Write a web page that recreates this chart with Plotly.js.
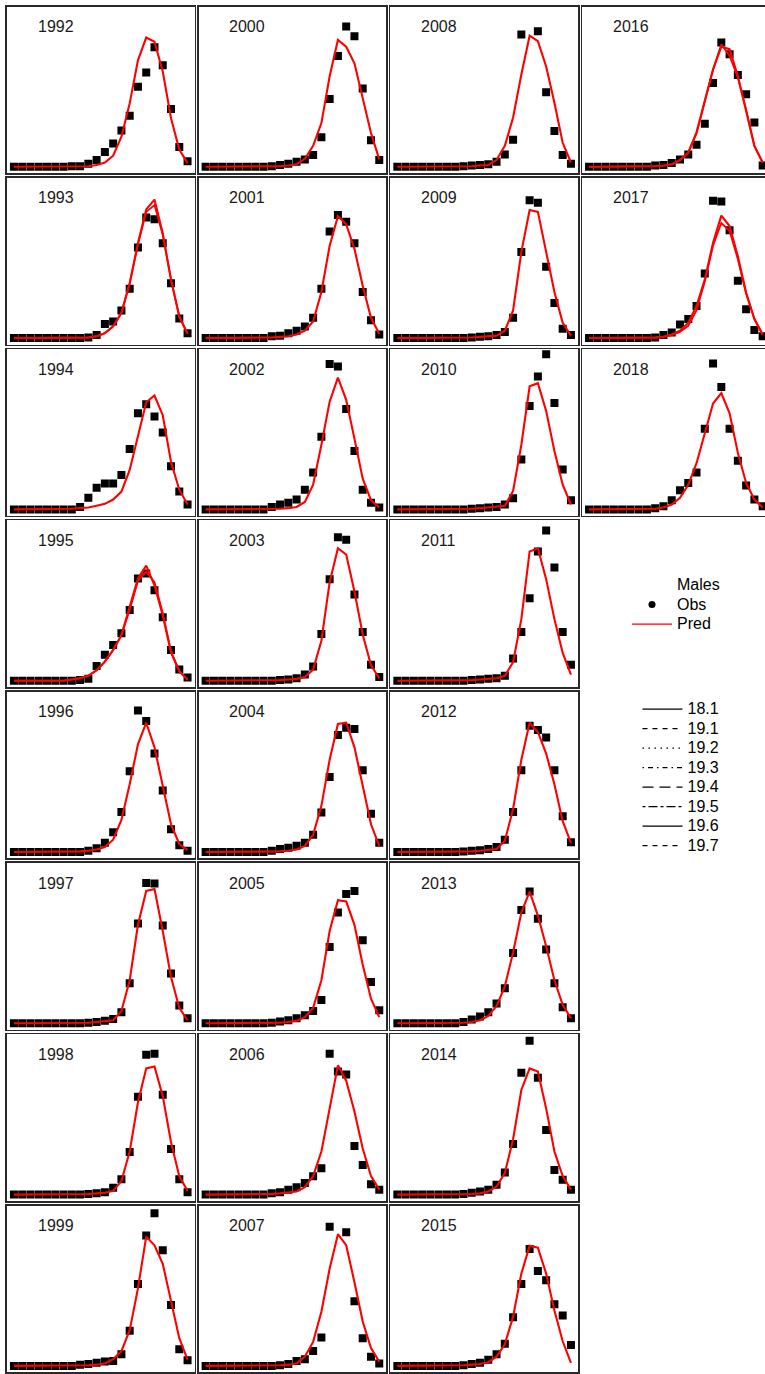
<!DOCTYPE html>
<html>
<head>
<meta charset="utf-8">
<script src="https://cdn.plot.ly/plotly-3.0.1.min.js"></script>
<style>
html,body{margin:0;padding:0;overflow:hidden;background:#fff;}
#chart{width:775px;height:1374px;}
</style>
</head>
<body>
<div id="chart"></div>
<script>
// ---------- data ----------
const lengthBins = [1,2,3,4,5,6,7,8,9,10,11,12,13,14,15,16,17,18,19,20,21,22];
const years = [1992,1993,1994,1995,1996,1997,1998,1999,2000,2001,2002,2003,2004,2005,2006,2007,2008,2009,2010,2011,2012,2013,2014,2015,2016,2017,2018];
const modelNames = ["18.1","19.1","19.2","19.3","19.4","19.5","19.6","19.7"];
const modelDash = ["solid","5px,5px","1.5px,4.5px","1.5px,4px,5px,4px","11px,6px","3px,3px,9px,3px","solid","5px,5px"];

const obs_1992 = [0,0,0,0,0,0,0,0.001,0.001,0.005,0.011,0.024,0.038,0.059,0.083,0.130,0.153,0.194,0.165,0.094,0.032,0.009];
const obs_1993 = [0,0,0,0,0,0,0,0,0,0.001,0.005,0.023,0.027,0.045,0.080,0.147,0.196,0.193,0.154,0.089,0.032,0.008];
const obs_1994 = [0,0,0,0,0,0,0,0,0.004,0.019,0.035,0.042,0.042,0.056,0.098,0.156,0.171,0.151,0.125,0.070,0.029,0.008];
const obs_1995 = [0,0,0,0,0,0,0,0,0.001,0.003,0.024,0.042,0.058,0.077,0.115,0.166,0.174,0.147,0.103,0.050,0.018,0.005];
const obs_1996 = [0,0,0,0,0,0,0,0,0,0.002,0.006,0.015,0.032,0.065,0.131,0.230,0.213,0.160,0.100,0.037,0.011,0.002];
const obs_1997 = [0,0,0,0,0,0,0,0,0,0.001,0.002,0.004,0.007,0.018,0.065,0.162,0.228,0.227,0.159,0.081,0.029,0.008];
const obs_1998 = [0,0,0,0,0,0,0,0,0,0.001,0.002,0.004,0.011,0.025,0.069,0.159,0.227,0.229,0.162,0.074,0.025,0.004];
const obs_1999 = [0,0,0,0,0,0,0,0,0.002,0.003,0.005,0.007,0.008,0.019,0.057,0.133,0.212,0.248,0.188,0.099,0.027,0.009];
const obs_2000 = [0,0,0,0,0,0,0,0,0.001,0.003,0.005,0.008,0.012,0.019,0.048,0.110,0.180,0.228,0.212,0.127,0.043,0.011];
const obs_2001 = [0,0,0,0,0,0,0,0,0.003,0.004,0.008,0.012,0.019,0.033,0.080,0.173,0.200,0.189,0.154,0.075,0.029,0.006];
const obs_2002 = [0,0,0,0,0,0,0,0,0.004,0.008,0.011,0.016,0.032,0.060,0.118,0.236,0.232,0.163,0.095,0.032,0.011,0.003];
const obs_2003 = [0,0,0,0,0,0,0,0,0,0.001,0.002,0.004,0.010,0.023,0.076,0.165,0.233,0.229,0.140,0.079,0.026,0.006];
const obs_2004 = [0,0,0,0,0,0,0,0,0.002,0.005,0.007,0.010,0.015,0.028,0.064,0.122,0.190,0.202,0.200,0.133,0.062,0.015];
const obs_2005 = [0,0,0,0,0,0,0,0,0.001,0.003,0.005,0.008,0.013,0.020,0.038,0.124,0.180,0.210,0.215,0.135,0.067,0.021];
const obs_2006 = [0,0,0,0,0,0,0,0,0.002,0.004,0.008,0.012,0.019,0.030,0.043,0.229,0.200,0.195,0.079,0.048,0.017,0.008];
const obs_2007 = [0,0,0,0,0,0,0,0,0,0.001,0.003,0.008,0.011,0.024,0.046,0.226,0.270,0.217,0.105,0.045,0.015,0.004];
const obs_2008 = [0,0,0,0,0,0,0,0,0.001,0.002,0.003,0.004,0.008,0.020,0.044,0.215,0.270,0.220,0.121,0.058,0.019,0.005];
const obs_2009 = [0,0,0,0,0,0,0,0,0,0.001,0.002,0.003,0.005,0.010,0.033,0.140,0.224,0.220,0.116,0.057,0.015,0.005];
const obs_2010 = [0,0,0,0,0,0,0,0,0,0.001,0.002,0.003,0.004,0.008,0.018,0.081,0.168,0.216,0.252,0.173,0.065,0.015];
const obs_2011 = [0,0,0,0,0,0,0,0,0,0.001,0.002,0.003,0.004,0.008,0.036,0.079,0.134,0.210,0.244,0.184,0.079,0.026];
const obs_2012 = [0,0,0,0,0,0,0,0,0.001,0.002,0.003,0.005,0.008,0.020,0.065,0.133,0.205,0.198,0.186,0.133,0.058,0.016];
const obs_2013 = [0,0,0,0,0,0,0,0,0.002,0.006,0.011,0.018,0.032,0.057,0.114,0.184,0.214,0.170,0.120,0.065,0.026,0.008];
const obs_2014 = [0,0,0,0,0,0,0,0,0.001,0.003,0.005,0.008,0.016,0.036,0.082,0.198,0.250,0.190,0.105,0.040,0.024,0.008];
const obs_2015 = [0,0,0,0,0,0,0,0,0.001,0.003,0.005,0.010,0.019,0.036,0.079,0.133,0.190,0.154,0.139,0.100,0.082,0.034];
const obs_2016 = [0,0,0,0,0,0,0,0,0.002,0.003,0.006,0.012,0.020,0.036,0.070,0.136,0.202,0.183,0.149,0.118,0.072,0.002];
const obs_2017 = [0,0,0,0,0,0,0,0,0.001,0.005,0.009,0.022,0.031,0.052,0.105,0.223,0.222,0.175,0.093,0.047,0.013,0.003];
const obs_2018 = [0,0,0,0,0,0,0,0,0.002,0.005,0.015,0.031,0.043,0.060,0.131,0.237,0.199,0.131,0.079,0.039,0.016,0.005];

const pred_1992 = [0,0,0,0,0,0,0,0,0.001,0.001,0.003,0.007,0.018,0.049,0.103,0.173,0.210,0.203,0.155,0.079,0.028,0.006];
const pred_1993 = [0,0,0,0,0,0,0,0,0,0.001,0.003,0.008,0.019,0.041,0.089,0.154,0.209,0.225,0.170,0.095,0.035,0.007];
const pred_1994 = [0,0,0,0,0,0,0,0.001,0.002,0.003,0.006,0.009,0.016,0.029,0.064,0.118,0.174,0.185,0.153,0.077,0.032,0.008];
const pred_1995 = [0,0,0,0,0,0,0,0.002,0.004,0.008,0.017,0.031,0.050,0.074,0.118,0.166,0.187,0.155,0.106,0.046,0.015,0.002];
const pred_1996 = [0,0,0,0,0,0,0,0,0.001,0.002,0.004,0.008,0.020,0.052,0.110,0.175,0.210,0.170,0.105,0.045,0.013,0.003];
const pred_1997 = [0,0,0,0,0,0,0,0,0,0.001,0.002,0.003,0.005,0.020,0.070,0.160,0.215,0.218,0.150,0.075,0.025,0.005];
const pred_1998 = [0,0,0,0,0,0,0,0,0,0.001,0.002,0.003,0.006,0.022,0.070,0.150,0.205,0.208,0.160,0.085,0.030,0.006];
const pred_1999 = [0,0,0,0,0,0,0,0,0,0.001,0.002,0.004,0.011,0.024,0.058,0.126,0.210,0.196,0.166,0.104,0.045,0.010];
const pred_2000 = [0,0,0,0,0,0,0,0,0,0.001,0.002,0.004,0.013,0.034,0.071,0.147,0.206,0.195,0.168,0.114,0.055,0.012];
const pred_2001 = [0,0,0,0,0,0,0,0,0.001,0.002,0.003,0.006,0.012,0.027,0.075,0.150,0.198,0.185,0.145,0.085,0.033,0.007];
const pred_2002 = [0,0,0,0,0,0,0,0,0,0.001,0.002,0.004,0.012,0.040,0.105,0.175,0.214,0.178,0.115,0.050,0.015,0.003];
const pred_2003 = [0,0,0,0,0,0,0,0,0,0.001,0.002,0.003,0.006,0.018,0.065,0.160,0.215,0.205,0.145,0.075,0.025,0.004];
const pred_2004 = [0,0,0,0,0,0,0,0,0,0.001,0.002,0.004,0.010,0.028,0.075,0.150,0.208,0.210,0.170,0.105,0.045,0.010];
const pred_2005 = [0,0,0,0,0,0,0,0,0,0.001,0.002,0.004,0.010,0.025,0.070,0.150,0.200,0.198,0.160,0.095,0.040,0.010];
const pred_2006 = [0,0,0,0,0,0,0,0,0.001,0.002,0.003,0.005,0.012,0.030,0.070,0.140,0.210,0.185,0.135,0.075,0.030,0.008];
const pred_2007 = [0,0,0,0,0,0,0,0,0,0.001,0.002,0.004,0.015,0.039,0.088,0.158,0.214,0.196,0.136,0.072,0.029,0.007];
const pred_2008 = [0,0,0,0,0,0,0,0,0,0.001,0.002,0.003,0.011,0.034,0.080,0.150,0.213,0.204,0.163,0.104,0.039,0.007];
const pred_2009 = [0,0,0,0,0,0,0,0,0,0.001,0.002,0.003,0.004,0.012,0.045,0.140,0.208,0.205,0.140,0.075,0.025,0.004];
const pred_2010 = [0,0,0,0,0,0,0,0,0,0.001,0.002,0.003,0.004,0.006,0.030,0.105,0.200,0.205,0.160,0.095,0.040,0.008];
const pred_2011 = [0,0,0,0,0,0,0,0,0,0.001,0.002,0.003,0.004,0.008,0.030,0.100,0.210,0.215,0.165,0.100,0.045,0.010];
const pred_2012 = [0,0,0,0,0,0,0,0,0,0.001,0.002,0.003,0.005,0.018,0.070,0.150,0.210,0.195,0.160,0.110,0.050,0.015];
const pred_2013 = [0,0,0,0,0,0,0,0,0.001,0.002,0.005,0.012,0.028,0.060,0.115,0.180,0.214,0.175,0.125,0.070,0.030,0.008];
const pred_2014 = [0,0,0,0,0,0,0,0,0,0.001,0.002,0.005,0.013,0.035,0.090,0.170,0.205,0.200,0.140,0.070,0.030,0.008];
const pred_2015 = [0,0,0,0,0,0,0,0,0.001,0.002,0.003,0.006,0.015,0.035,0.080,0.150,0.195,0.192,0.150,0.090,0.040,0.005];
const pred_2016 = [0,0,0,0,0,0,0,0,0.001,0.002,0.004,0.011,0.023,0.056,0.107,0.158,0.195,0.191,0.147,0.093,0.034,0.007];
const pred_2017 = [0,0,0,0,0,0,0,0,0.001,0.002,0.006,0.012,0.025,0.052,0.095,0.155,0.199,0.182,0.133,0.074,0.031,0.006];
const pred_2018 = [0,0,0,0,0,0,0,0,0.001,0.003,0.008,0.019,0.040,0.075,0.124,0.172,0.189,0.156,0.092,0.043,0.016,0.003];

// alternative model runs (where they visibly differ from the main run)
const predAlt_1993 = [0,0,0,0,0,0,0,0,0,0.001,0.003,0.008,0.019,0.041,0.089,0.152,0.205,0.216,0.168,0.095,0.035,0.007];
const predAlt_1995 = [0,0,0,0,0,0,0,0.002,0.004,0.008,0.017,0.031,0.050,0.074,0.115,0.162,0.177,0.160,0.110,0.048,0.015,0.002];
const predAlt_2016 = [0,0,0,0,0,0,0,0,0.001,0.002,0.004,0.011,0.023,0.054,0.105,0.158,0.199,0.180,0.145,0.093,0.034,0.007];
const predAlt_2017 = [0,0,0,0,0,0,0,0,0.001,0.002,0.005,0.010,0.020,0.045,0.092,0.150,0.187,0.174,0.128,0.072,0.031,0.006];

const obsList = [obs_1992,obs_1993,obs_1994,obs_1995,obs_1996,obs_1997,obs_1998,obs_1999,obs_2000,obs_2001,obs_2002,obs_2003,obs_2004,obs_2005,obs_2006,obs_2007,obs_2008,obs_2009,obs_2010,obs_2011,obs_2012,obs_2013,obs_2014,obs_2015,obs_2016,obs_2017,obs_2018];
const predList = [pred_1992,pred_1993,pred_1994,pred_1995,pred_1996,pred_1997,pred_1998,pred_1999,pred_2000,pred_2001,pred_2002,pred_2003,pred_2004,pred_2005,pred_2006,pred_2007,pred_2008,pred_2009,pred_2010,pred_2011,pred_2012,pred_2013,pred_2014,pred_2015,pred_2016,pred_2017,pred_2018];
const predAltList = {1993: predAlt_1993, 1995: predAlt_1995, 2016: predAlt_2016, 2017: predAlt_2017};

// ---------- layout geometry ----------
const W = 775, H = 1374;
const colLeft0 = 7, colPitch = 191.7, panelW = 187.5;
const rowTop0 = 6.5, rowPitch = 171.3, panelH = 166.7;
const nRows = 8;
const FONT = '"Liberation Sans", Arial, Helvetica, sans-serif';

const data = [];
const layout = {
  width: W, height: H,
  margin: {l:0, r:0, t:0, b:0},
  paper_bgcolor: '#fff', plot_bgcolor: '#fff',
  font: {family: FONT, color: '#000', size: 16},
  showlegend: true,
  annotations: [],
  legend: {
    x: 627/W, y: 1 - 570.3/H, xanchor: 'left', yanchor: 'top',
    bgcolor: 'rgba(0,0,0,0)', borderwidth: 0, itemwidth: 40,
    font: {family: FONT, size: 12.7, color: '#000'}, tracegroupgap: 0
  },
  legend2: {
    x: 637.5/W, y: 1 - 694.3/H, xanchor: 'left', yanchor: 'top',
    bgcolor: 'rgba(0,0,0,0)', borderwidth: 0, itemwidth: 40,
    font: {family: FONT, size: 12.7, color: '#000'}, tracegroupgap: 0
  }
};

years.forEach((yr, k) => {
  const col = Math.floor(k / nRows), row = k % nRows;
  const n = k + 1;
  const xa = 'xaxis' + (n === 1 ? '' : n), ya = 'yaxis' + (n === 1 ? '' : n);
  const xr = 'x' + (n === 1 ? '' : n), yr2 = 'y' + (n === 1 ? '' : n);
  const x0 = colLeft0 + col * colPitch, top = rowTop0 + row * rowPitch;
  const axCommon = {showticklabels: false, ticks: '', showgrid: false, zeroline: false,
    showline: true, mirror: true, linecolor: '#2a2a2a', linewidth: 1.6, fixedrange: true};
  layout[xa] = Object.assign({domain: [x0 / W, (x0 + panelW) / W], range: [0.16, 22.84], anchor: yr2}, axCommon);
  layout[ya] = Object.assign({domain: [1 - (top + panelH) / H, 1 - top / H], range: [-0.0104, 0.2604], anchor: xr}, axCommon);

  data.push({x: lengthBins, y: obsList[k], xaxis: xr, yaxis: yr2, type: 'scatter', mode: 'markers',
    marker: {symbol: 'square', size: 8, color: '#000'}, showlegend: false, hoverinfo: 'skip'});
  if (predAltList[yr]) {
    data.push({x: lengthBins, y: predAltList[yr], xaxis: xr, yaxis: yr2, type: 'scatter', mode: 'lines',
      line: {color: '#ff0000', width: 1.8}, showlegend: false, hoverinfo: 'skip'});
  }
  data.push({x: lengthBins, y: predList[k], xaxis: xr, yaxis: yr2, type: 'scatter', mode: 'lines',
    line: {color: '#ff0000', width: 2.1}, showlegend: false, hoverinfo: 'skip'});

  layout.annotations.push({text: String(yr), xref: xr + ' domain', yref: yr2 + ' domain',
    x: 28.5 / panelW, y: 1 - 20 / panelH, xanchor: 'left', yanchor: 'middle', showarrow: false,
    font: {family: FONT, size: 16, color: '#1a1a1a'}});
});

// ---------- legends ----------
const big = s => '<span style="font-size:16px">' + s + '</span>';
data.push({x: [null], y: [null], type: 'scatter', mode: 'lines', name: big('Males'),
  line: {width: 0, color: 'rgba(0,0,0,0)'}, legend: 'legend'});
data.push({x: [null], y: [null], type: 'scatter', mode: 'markers', name: big('Obs'),
  marker: {symbol: 'circle', size: 7, color: '#000'}, legend: 'legend'});
data.push({x: [null], y: [null], type: 'scatter', mode: 'lines', name: big('Pred'),
  line: {width: 1.3, color: '#ff0000'}, legend: 'legend'});
modelNames.forEach((m, i) => {
  data.push({x: [null], y: [null], type: 'scatter', mode: 'lines', name: big(m),
    line: {width: 1.3, color: '#000', dash: modelDash[i]}, legend: 'legend2'});
});

Plotly.newPlot('chart', data, layout, {staticPlot: true, displayModeBar: false});
</script>
</body>
</html>
